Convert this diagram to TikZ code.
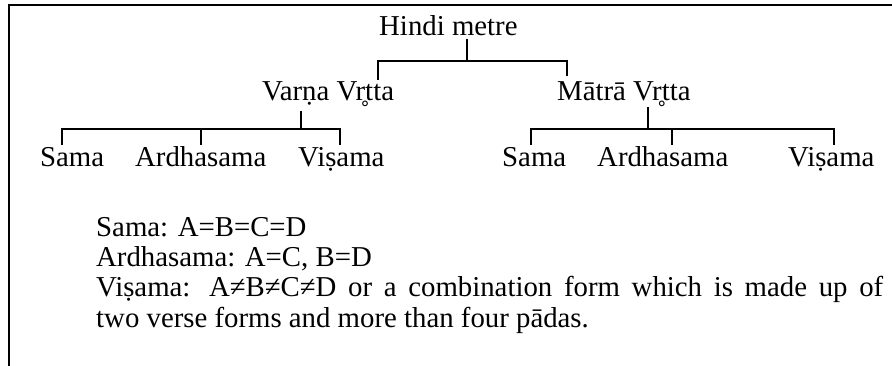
\documentclass[tikz,border=0pt]{standalone}
\usepackage{fontspec}
\setmainfont{Liberation Serif}
\begin{document}
\begin{tikzpicture}[x=1pt,y=-1pt,
  lbl/.style={anchor=base west, inner sep=0pt, font=\fontsize{28.8}{34}\selectfont},
  conn/.style={line width=1.6pt, line join=miter},
  frameline/.style={line width=2pt, line join=miter}]
\useasboundingbox (0,0) rectangle (892,366);
% frame (top and left only)
\coordinate (fb) at (9,366);
\coordinate (ft) at (892,5);
\draw[frameline] (fb) |- (ft);
% tree labels
\node[lbl] (hindi) at (379,36) {Hindi metre};
\node[lbl] (varna) at (262,101) {Varṇa Vr̥tta};
\node[lbl] (matra) at (557,101) {Mātrā Vr̥tta};
\node[lbl] (s1) at (40,167) {Sama};
\node[lbl] (a1) at (135,167) {Ardhasama};
\node[lbl] (v1) at (298,167) {Viṣama};
\node[lbl] (s2) at (502,167) {Sama};
\node[lbl] (a2) at (597,167) {Ardhasama};
\node[lbl] (v2) at (788,167) {Viṣama};
% connector points
\coordinate (htop) at (467,39);
\coordinate (hj) at (467,61);
\coordinate (hL) at (378,80);
\coordinate (hR) at (567,76);
\coordinate (vtop) at (301,111);
\coordinate (vj) at (301,129);
\coordinate (vs1) at (62,145);
\coordinate (va1) at (201,145);
\coordinate (vv1) at (340,145);
\coordinate (mtop) at (648,107);
\coordinate (mj) at (648,129);
\coordinate (ms2) at (531,145);
\coordinate (ma2) at (672,145);
\coordinate (mv2) at (834,145);
% connectors
\draw[conn] (htop) -- (hj);
\draw[conn] (hL) |- (hR |- hj) -- (hR);
\draw[conn] (vtop) -- (vj);
\draw[conn] (vs1) |- (vv1 |- vj) -- (vv1);
\draw[conn] (va1) -- (va1 |- vj);
\draw[conn] (mtop) -- (mj);
\draw[conn] (ms2) |- (mv2 |- mj) -- (mv2);
\draw[conn] (ma2) -- (ma2 |- mj);
% legend text
\node[lbl] (d1) at (96,237) {Sama: A=B=C=D};
\node[lbl] (d2) at (96,267) {Ardhasama: A=C, B=D};
\node[lbl] (d3) at (96,297) {\hbox to 787pt{Viṣama: A≠B≠C≠D or a combination form which is made up of}};
\node[lbl] (d4) at (96,327) {two verse forms and more than four pādas.};
\end{tikzpicture}
\end{document}
